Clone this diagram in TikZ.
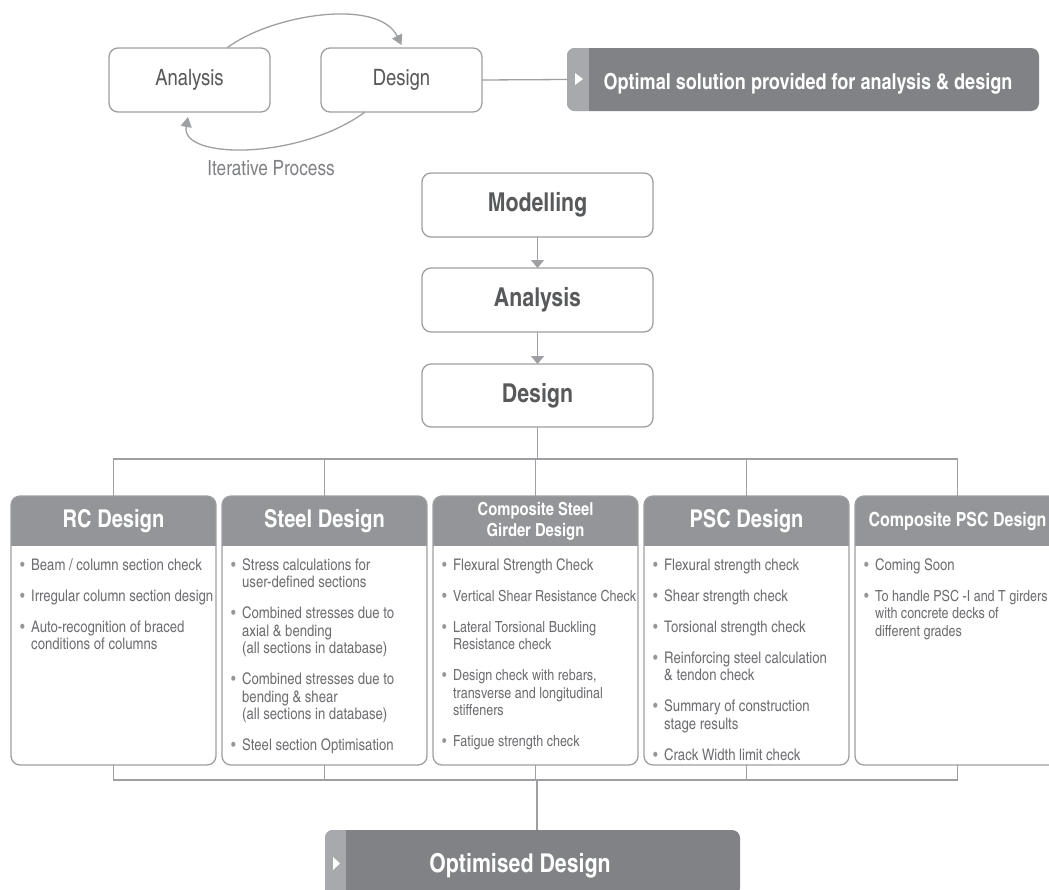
\documentclass[tikz,border=0pt]{standalone}
\usepackage{fontspec}
\setmainfont{texgyreheroscn}[Extension=.otf, UprightFont=*-regular, BoldFont=*-bold, ItalicFont=*-italic, BoldItalicFont=*-bolditalic]
\usetikzlibrary{arrows.meta}

\definecolor{hdr}{HTML}{939598}
\definecolor{darkfill}{HTML}{808285}
\definecolor{stripfill}{HTML}{A7A9AC}
\definecolor{edgegray}{HTML}{9D9FA2}
\definecolor{txt}{HTML}{58595B}
\definecolor{bodytxt}{HTML}{6D6E71}
\definecolor{bull}{HTML}{939598}

% bullet item with hanging indent
\newcommand\bitem[1]{\par\hangindent=11pt\hangafter=1\noindent\makebox[11pt][l]{\textcolor{bull}{\textbullet}}#1\par\vspace{13.5pt}}

\tikzset{
  conn/.style={draw=edgegray, line width=1.3pt},
  flowbox/.style={draw=edgegray, line width=1.3pt, rounded corners=9pt, fill=white, text=txt, inner sep=0pt, outer sep=0pt},
  panelbox/.style={minimum width=205pt, minimum height=269pt, inner sep=0pt, outer sep=0pt, fill=white},
  headtext/.style={text=white, align=center, inner sep=0pt},
  tipsmall/.style={-{Triangle[width=11pt,length=10pt]}},
  tipdown/.style={-{Triangle[width=13pt,length=8pt]}},
}

% one design panel: name, centre x, header font, header text, body
\newcommand\designpanel[5]{%
  \node[panelbox] (#1) at (#2,630.5) {};
  \begin{scope}
    \clip[rounded corners=9pt] (#1.south west) rectangle (#1.north east);
    \fill[hdr] (#1.north west) rectangle ([yshift=-50pt]#1.north east);
  \end{scope}
  \draw[conn, rounded corners=9pt] (#1.south west) rectangle (#1.north east);
  \node[headtext, font=#3] (#1-h) at ([yshift=-25pt]#1.north) {#4};
  \node[anchor=base west, inner sep=0pt, text=bodytxt] (#1-b) at ([xshift=9pt, yshift=-74pt]#1.north west)
    {\begin{minipage}[t]{230pt}\parindent=0pt\fontsize{16}{17.5}\selectfont #5\end{minipage}};
}

\begin{document}
\begin{tikzpicture}[x=1pt, y=-1pt]
\useasboundingbox (0,0) rectangle (1049,889);

% ---- iterative loop ----
\node[flowbox, minimum width=161pt, minimum height=64pt, font=\fontsize{22.5}{26}\selectfont] (ta) at (189.5,80) {Analysis};
\node[flowbox, minimum width=161pt, minimum height=64pt, font=\fontsize{22.5}{26}\selectfont] (td) at (401.5,80) {Design};

\draw[conn, tipsmall] ([xshift=37.5pt]ta.north) .. controls (270,15) and (378,-3) .. ([yshift=3pt]td.north);
\draw[conn, tipsmall] ([xshift=-36.5pt]td.south) .. controls (300,160) and (180,160) .. ([xshift=-1.5pt, yshift=-5pt]ta.south);
\node[anchor=base, text=darkfill, font=\fontsize{21}{25}\selectfont, inner sep=0pt] (iter) at (271,175) {Iterative Process};

% ---- optimal solution banner ----
\node[fill=darkfill, rounded corners=8pt, minimum width=472pt, minimum height=63pt, inner sep=0pt, outer sep=0pt] (optA) at (803,79.5) {};
\begin{scope}
  \clip[rounded corners=8pt] (optA.south west) rectangle (optA.north east);
  \fill[stripfill] (optA.south west) rectangle ([xshift=22pt]optA.north west);
\end{scope}
\fill[white] (575,73) -- (583,79) -- (575,85) -- cycle;
\node[anchor=base, text=white, font=\bfseries\fontsize{22}{26}\selectfont, inner sep=0pt] (optAt) at (808,89) {Optimal solution provided for analysis \& design};
\draw[conn] (td.east) -- (optA.west);

% ---- main flow ----
\node[flowbox, minimum width=231pt, minimum height=64pt, font=\bfseries\fontsize{26}{30}\selectfont] (mod) at (537.5,205) {Modelling};
\node[flowbox, minimum width=231pt, minimum height=64pt, font=\bfseries\fontsize{26}{30}\selectfont] (ana) at (537.5,300) {Analysis};
\node[flowbox, minimum width=231pt, minimum height=63pt, font=\bfseries\fontsize{26}{30}\selectfont] (des) at (537.5,395.5) {Design};
\draw[conn, tipdown] (mod.south) -- (ana.north);
\draw[conn, tipdown] (ana.south) -- (des.north);

% ---- design panels ----
\designpanel{rc}{113.5}{\bfseries\fontsize{24.5}{28}\selectfont}{RC Design}{%
  \bitem{Beam / column section check}
  \bitem{Irregular column section design}
  \bitem{Auto-recognition of braced\\conditions of columns}}
\designpanel{steel}{324.5}{\bfseries\fontsize{24.5}{28}\selectfont}{Steel Design}{%
  \bitem{Stress calculations for\\user-defined sections}
  \bitem{Combined stresses due to\\axial \& bending\\(all sections in database)}
  \bitem{Combined stresses due to\\bending \& shear\\(all sections in database)}
  \bitem{Steel section Optimisation}}
\designpanel{csg}{535.5}{\bfseries\fontsize{18}{21}\selectfont}{Composite Steel\\Girder Design}{%
  \bitem{Flexural Strength Check}
  \bitem{\fontsize{15.3}{17.5}\selectfont Vertical Shear Resistance Check}
  \bitem{Lateral Torsional Buckling\\Resistance check}
  \bitem{Design check with rebars,\\transverse and longitudinal\\stiffeners}
  \bitem{Fatigue strength check}}
\designpanel{psc}{746.5}{\bfseries\fontsize{24.5}{28}\selectfont}{PSC Design}{%
  \bitem{Flexural strength check}
  \bitem{Shear strength check}
  \bitem{Torsional strength check}
  \bitem{Reinforcing steel calculation\\\& tendon check}
  \bitem{Summary of construction\\stage results}
  \bitem{Crack Width limit check}}
\designpanel{cpsc}{957.5}{\bfseries\fontsize{19.5}{23}\selectfont}{Composite PSC Design}{%
  \bitem{Coming Soon}
  \bitem{\fontsize{15.3}{17.5}\selectfont To handle PSC -I and T girders\\with concrete decks of\\different grades}}

% ---- upper bus ----
\coordinate (busT) at (537,459);
\draw[conn] (des.south) -- (des.south |- busT);
\draw[conn] (rc.north) -- (rc.north |- busT) -- (cpsc.north |- busT) -- (cpsc.north);
\draw[conn] (steel.north) -- (steel.north |- busT);
\draw[conn] (csg.north) -- (csg.north |- busT);
\draw[conn] (psc.north) -- (psc.north |- busT);

% ---- lower bus ----
\coordinate (busB) at (537,780);
\draw[conn] (rc.south) -- (rc.south |- busB) -- (cpsc.south |- busB) -- (cpsc.south);
\draw[conn] (steel.south) -- (steel.south |- busB);
\draw[conn] (csg.south) -- (csg.south |- busB);
\draw[conn] (psc.south) -- (psc.south |- busB);

% ---- optimised design banner ----
\node[fill=darkfill, rounded corners=8pt, minimum width=415pt, minimum height=66pt, inner sep=0pt, outer sep=0pt] (optB) at (532.5,863) {};
\begin{scope}
  \clip[rounded corners=8pt] (optB.south west) rectangle (optB.north east);
  \fill[stripfill] (optB.south west) rectangle ([xshift=21pt]optB.north west);
\end{scope}
\fill[white] (333,857) -- (340,863.5) -- (333,870) -- cycle;
\node[anchor=base, text=white, font=\bfseries\fontsize{26}{30}\selectfont, inner sep=0pt] (optBt) at (520,872) {Optimised Design};
\draw[conn] (busB) -- (busB |- optB.north);

\end{tikzpicture}
\end{document}
